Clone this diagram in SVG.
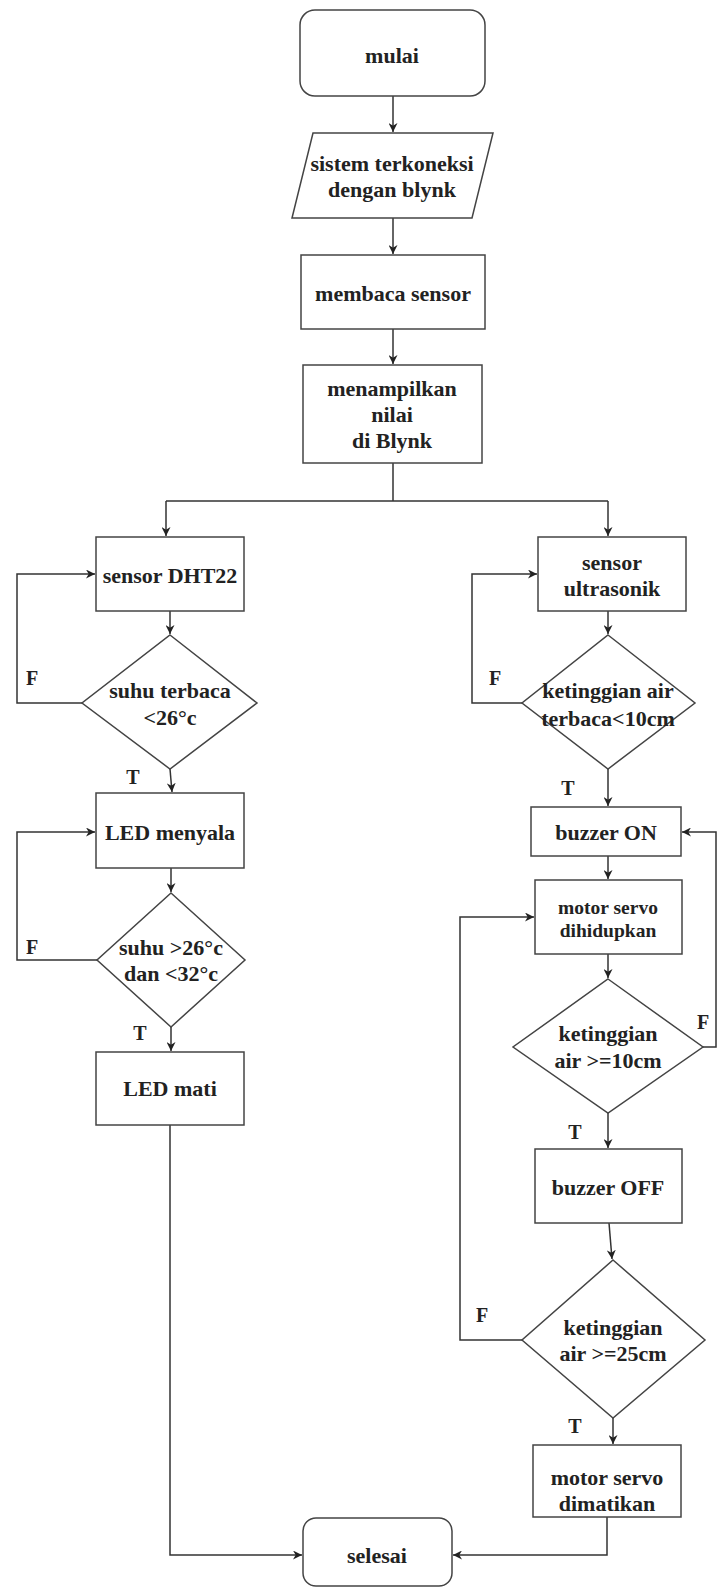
<svg xmlns="http://www.w3.org/2000/svg" width="718" height="1588" viewBox="0 0 718 1588">
<defs>
<marker id="ah" viewBox="0 0 10 10" refX="10" refY="5" markerWidth="9" markerHeight="9" markerUnits="userSpaceOnUse" orient="auto">
<path d="M0,0 L10,5 L0,10 L3,5 Z" fill="#222"/>
</marker>
</defs>
<style>
.n{fill:#fff;stroke:#444;stroke-width:1.5}
.t{font-family:"Liberation Serif","Times New Roman",serif;font-weight:bold;font-size:22px;fill:#222;text-anchor:middle;dominant-baseline:central}
.s{font-size:19.5px}
.lb{font-family:"Liberation Serif","Times New Roman",serif;font-weight:bold;font-size:20px;fill:#222;text-anchor:middle;dominant-baseline:central}
.c{fill:none;stroke:#333;stroke-width:1.5}
</style>
<rect width="718" height="1588" fill="#fff"/>
<g id="connectors">
<path class="c" d="M393,96 V132" marker-end="url(#ah)"/>
<path class="c" d="M393,218 V254" marker-end="url(#ah)"/>
<path class="c" d="M393,329 V364" marker-end="url(#ah)"/>
<path class="c" d="M393,463 V501 M166,501 H608"/>
<path class="c" d="M166,501 V536" marker-end="url(#ah)"/>
<path class="c" d="M608,501 V536" marker-end="url(#ah)"/>
<path class="c" d="M170,611 V634" marker-end="url(#ah)"/>
<path class="c" d="M82,703 H17 V574 H95" marker-end="url(#ah)"/>
<path class="c" d="M170,769 L172,792" marker-end="url(#ah)"/>
<path class="c" d="M171,868 V892" marker-end="url(#ah)"/>
<path class="c" d="M97,960 H17 V832 H95" marker-end="url(#ah)"/>
<path class="c" d="M171,1027 V1051" marker-end="url(#ah)"/>
<path class="c" d="M170,1125 V1555 H302" marker-end="url(#ah)"/>
<path class="c" d="M608,611 V634" marker-end="url(#ah)"/>
<path class="c" d="M522,703 H472 V574 H537" marker-end="url(#ah)"/>
<path class="c" d="M608,769 V806" marker-end="url(#ah)"/>
<path class="c" d="M608,856 V879" marker-end="url(#ah)"/>
<path class="c" d="M608,954 V978" marker-end="url(#ah)"/>
<path class="c" d="M703,1047 H716 V832 H682" marker-end="url(#ah)"/>
<path class="c" d="M608,1113 V1148" marker-end="url(#ah)"/>
<path class="c" d="M609,1223 L612,1259" marker-end="url(#ah)"/>
<path class="c" d="M522,1340 H460 V917 H534" marker-end="url(#ah)"/>
<path class="c" d="M613,1418 V1444" marker-end="url(#ah)"/>
<path class="c" d="M607,1517 V1555 H453" marker-end="url(#ah)"/>
</g>
<g id="labels">
<text class="lb" x="32" y="678">F</text>
<text class="lb" x="133" y="777">T</text>
<text class="lb" x="32" y="947">F</text>
<text class="lb" x="140" y="1033">T</text>
<text class="lb" x="495" y="678">F</text>
<text class="lb" x="568" y="788">T</text>
<text class="lb" x="703" y="1022">F</text>
<text class="lb" x="575" y="1132">T</text>
<text class="lb" x="482" y="1315">F</text>
<text class="lb" x="575" y="1426">T</text>
</g>
<g id="mulai">
<rect class="n" x="300" y="10" width="185" height="86" rx="15"/>
<text class="t" x="392" y="55">mulai</text>
</g>
<g id="koneksi">
<polygon class="n" points="313,133 493,133 472,218 292,218"/>
<text class="t" x="392" y="163">sistem terkoneksi</text>
<text class="t" x="392" y="189">dengan blynk</text>
</g>
<g id="membaca">
<rect class="n" x="301" y="255" width="184" height="74"/>
<text class="t" x="393" y="293">membaca sensor</text>
</g>
<g id="menampilkan">
<rect class="n" x="303" y="365" width="179" height="98"/>
<text class="t" x="392" y="388">menampilkan</text>
<text class="t" x="392" y="414">nilai</text>
<text class="t" x="392" y="440">di Blynk</text>
</g>
<g id="dht22">
<rect class="n" x="96" y="537" width="148" height="74"/>
<text class="t" x="170" y="575">sensor DHT22</text>
</g>
<g id="cek-suhu1">
<polygon class="n" points="170,635 257,703 170,769 82,703"/>
<text class="t" x="170" y="690">suhu terbaca</text>
<text class="t" x="170" y="717">&lt;26°c</text>
</g>
<g id="led-nyala">
<rect class="n" x="96" y="793" width="148" height="75"/>
<text class="t" x="170" y="832">LED menyala</text>
</g>
<g id="cek-suhu2">
<polygon class="n" points="171,893 245,960 171,1027 97,960"/>
<text class="t" x="171" y="947">suhu &gt;26°c</text>
<text class="t" x="171" y="973">dan &lt;32°c</text>
</g>
<g id="led-mati">
<rect class="n" x="96" y="1052" width="148" height="73"/>
<text class="t" x="170" y="1088">LED mati</text>
</g>
<g id="ultrasonik">
<rect class="n" x="538" y="537" width="148" height="74"/>
<text class="t" x="612" y="562">sensor</text>
<text class="t" x="612" y="588">ultrasonik</text>
</g>
<g id="cek-air1">
<polygon class="n" points="608,635 695,703 608,769 522,703"/>
<text class="t" x="608" y="690">ketinggian air</text>
<text class="t" x="608" y="718">terbaca&lt;10cm</text>
</g>
<g id="buzzer-on">
<rect class="n" x="531" y="807" width="150" height="49"/>
<text class="t" x="606" y="832">buzzer ON</text>
</g>
<g id="servo-on">
<rect class="n" x="535" y="880" width="147" height="74"/>
<text class="t s" x="608" y="907">motor servo</text>
<text class="t s" x="608" y="930">dihidupkan</text>
</g>
<g id="cek-air2">
<polygon class="n" points="608,979 703,1047 608,1113 513,1047"/>
<text class="t" x="608" y="1033">ketinggian</text>
<text class="t" x="608" y="1060">air &gt;=10cm</text>
</g>
<g id="buzzer-off">
<rect class="n" x="535" y="1149" width="147" height="74"/>
<text class="t" x="608" y="1187">buzzer OFF</text>
</g>
<g id="cek-air3">
<polygon class="n" points="613,1260 705,1340 613,1418 522,1340"/>
<text class="t" x="613" y="1327">ketinggian</text>
<text class="t" x="613" y="1353">air &gt;=25cm</text>
</g>
<g id="servo-off">
<rect class="n" x="533" y="1445" width="148" height="72"/>
<text class="t" x="607" y="1477">motor servo</text>
<text class="t" x="607" y="1503">dimatikan</text>
</g>
<g id="selesai">
<rect class="n" x="303" y="1518" width="149" height="68" rx="13"/>
<text class="t" x="377" y="1555">selesai</text>
</g>
</svg>
